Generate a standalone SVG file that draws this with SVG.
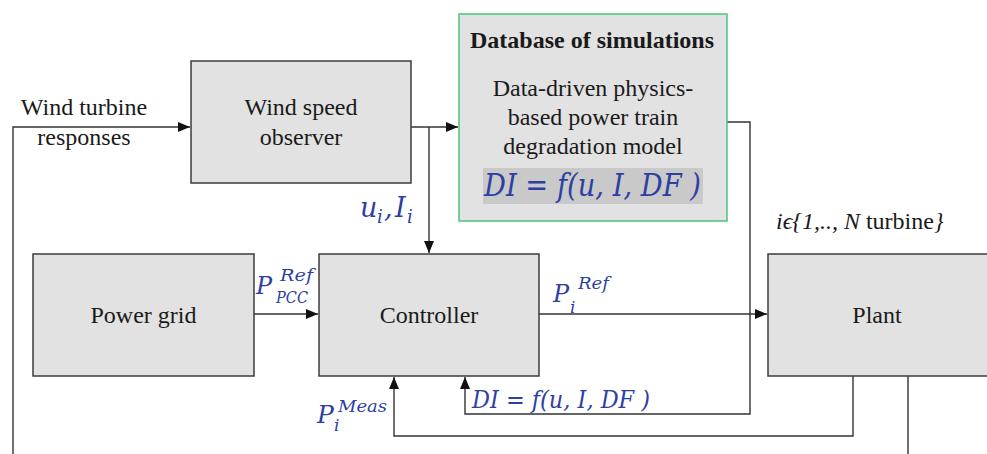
<svg xmlns="http://www.w3.org/2000/svg" width="987" height="454" viewBox="0 0 987 454">
<style>
.box{fill:#e2e2e2;stroke:#3c3c3c;stroke-width:1.5}
.db{fill:#e2e2e2;stroke:#4cc47c;stroke-width:1.5}
.ln{fill:none;stroke:#333;stroke-width:1.4}
.t{font-family:"Liberation Serif","Times New Roman",serif;font-size:24px;fill:#1a1a1a}
.m{font-family:"DejaVu Serif",serif;font-style:italic;fill:#2e3fa3}
</style>
<defs>
<marker id="ah" viewBox="0 0 12 10" refX="12" refY="5" markerWidth="12" markerHeight="10" markerUnits="userSpaceOnUse" orient="auto">
<path d="M0,0 L12,5 L0,10 z" fill="#111"/>
</marker>
</defs>
<g id="connectors">
<path class="ln" d="M13,454 V127 H190" marker-end="url(#ah)"/>
<path class="ln" d="M411,127 H458" marker-end="url(#ah)"/>
<path class="ln" d="M429,127 V253" marker-end="url(#ah)"/>
<path class="ln" d="M254,314 H318" marker-end="url(#ah)"/>
<path class="ln" d="M539,314 H767" marker-end="url(#ah)"/>
<path class="ln" d="M727,122 H750 V414 H465 V377" marker-end="url(#ah)"/>
<path class="ln" d="M853,376 V436 H394 V377" marker-end="url(#ah)"/>
<path class="ln" d="M908,376 V454"/>
</g>
<g id="label-wind-turbine-responses">
<text class="t" x="84" y="115" text-anchor="middle">Wind turbine</text>
<text class="t" x="84" y="145" text-anchor="middle">responses</text>
</g>
<g id="wind-speed-observer">
<rect class="box" x="191" y="61" width="220" height="122"/>
<text class="t" x="301" y="115" text-anchor="middle">Wind speed</text>
<text class="t" x="301" y="145" text-anchor="middle">observer</text>
</g>
<g id="database">
<rect class="db" x="459" y="14" width="268" height="207"/>
<text class="t" x="592" y="48" text-anchor="middle" font-weight="bold">Database of simulations</text>
<text class="t" x="593" y="96" text-anchor="middle">Data-driven physics-</text>
<text class="t" x="593" y="125" text-anchor="middle">based power train</text>
<text class="t" x="593" y="154" text-anchor="middle">degradation model</text>
<rect x="483" y="168" width="220" height="36" fill="#c9c9c9"/>
<text class="m" x="484" y="196" font-size="31" textLength="217" lengthAdjust="spacingAndGlyphs">DI = f(u, I, DF )</text>
</g>
<g id="power-grid">
<rect class="box" x="33" y="254" width="221" height="122"/>
<text class="t" x="143.5" y="323" text-anchor="middle">Power grid</text>
</g>
<g id="controller">
<rect class="box" x="319" y="254" width="220" height="122"/>
<text class="t" x="429" y="323" text-anchor="middle">Controller</text>
</g>
<g id="plant">
<rect class="box" x="768" y="254" width="230" height="122"/>
<text class="t" x="877" y="323" text-anchor="middle">Plant</text>
</g>
<g id="labels">
<text class="t" x="776" y="229"><tspan font-style="italic">iϵ{1,.., N</tspan> turbine<tspan font-style="italic">}</tspan></text>
<text class="m" x="360" y="217" font-size="27">u</text>
<text class="m" x="377" y="223" font-size="18">i</text>
<text class="m" x="384" y="217" font-size="27">,</text>
<text class="m" x="395" y="217" font-size="27">I</text>
<text class="m" x="407" y="223" font-size="18">i</text>
<text class="m" x="256" y="294" font-size="24">P</text>
<text class="m" x="280" y="281" font-size="16" textLength="33" lengthAdjust="spacingAndGlyphs">Ref</text>
<text class="m" x="276" y="303" font-size="16" textLength="32" lengthAdjust="spacingAndGlyphs">PCC</text>
<text class="m" x="553" y="302" font-size="24">P</text>
<text class="m" x="570" y="313" font-size="17">i</text>
<text class="m" x="578" y="289" font-size="16" textLength="31" lengthAdjust="spacingAndGlyphs">Ref</text>
<text class="m" x="317" y="423" font-size="25">P</text>
<text class="m" x="338" y="412" font-size="16" textLength="49" lengthAdjust="spacingAndGlyphs">Meas</text>
<text class="m" x="334" y="431" font-size="17">i</text>
<text class="m" x="472" y="408" font-size="25" textLength="178" lengthAdjust="spacingAndGlyphs">DI = f(u, I, DF )</text>
</g>
</svg>
